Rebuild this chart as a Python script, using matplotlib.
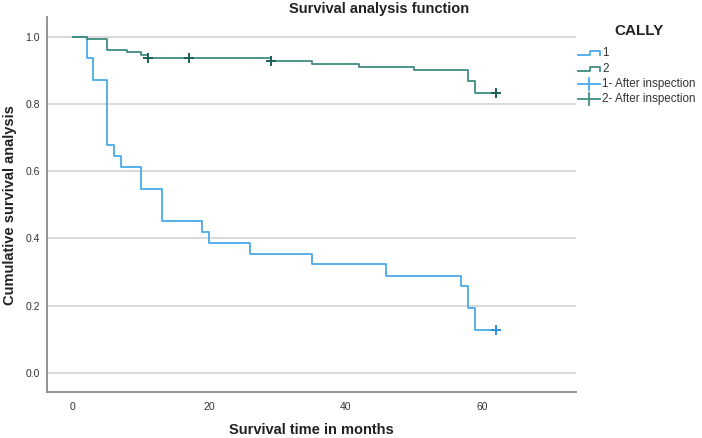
import matplotlib
matplotlib.use("Agg")
import matplotlib.pyplot as plt
from matplotlib.lines import Line2D

plt.rcParams["font.family"] = ["Liberation Sans", "DejaVu Sans"]

# Kaplan-Meier steps, group 1
g1_time = [0, 2, 3, 5, 6, 7, 10, 13, 19, 20, 26, 35, 46, 57, 58, 59, 62]
g1_surv = [1.0, 0.935, 0.871, 0.677, 0.645, 0.613, 0.548, 0.452, 0.419,
           0.387, 0.355, 0.323, 0.290, 0.258, 0.194, 0.129, 0.129]
g1_cens_time = [62]
g1_cens_surv = [0.129]

# group 2
g2_time = [0, 2, 5, 8, 10, 11, 29, 35, 42, 50, 58, 59, 62]
g2_surv = [1.0, 0.994, 0.959, 0.953, 0.944, 0.935, 0.927, 0.919, 0.910,
           0.901, 0.867, 0.833, 0.833]
g2_cens_time = [11, 17, 29, 62]
g2_cens_surv = [0.935, 0.935, 0.927, 0.833]

y_ticks = [0.0, 0.2, 0.4, 0.6, 0.8, 1.0]
x_ticks = [0, 20, 40, 60]

c1 = "#4aa9ea"
c2 = "#3f8c82"
c1_cens = "#2b8fe0"
c2_cens = "#1d5e57"

fig = plt.figure(figsize=(7.02, 4.38), dpi=100)
ax = fig.add_axes([47 / 702, 1 - 392 / 438, (576 - 47) / 702, (392 - 17) / 438])

for y in y_ticks:
    ax.axhline(y, color="#cfcfcf", lw=1.1, zorder=0)

ax.step(g1_time, g1_surv, where="post", color=c1, lw=1.3, zorder=2)
ax.plot(g1_cens_time, g1_cens_surv, "+", color=c1_cens, ms=6.5, mew=1.4, zorder=4)
ax.step(g2_time, g2_surv, where="post", color=c2, lw=1.3, zorder=3)
ax.plot(g2_cens_time, g2_cens_surv, "+", color=c2_cens, ms=6.5, mew=1.4, zorder=4)

ax.set_xlim(-3.8, 73.8)
ax.set_ylim(-0.056, 1.058)
ax.set_xticks(x_ticks)
ax.set_yticks(y_ticks)
ax.set_yticklabels([f"{v:.1f}" for v in y_ticks])
ax.tick_params(length=0, labelsize=7.5, labelcolor="#333333")
ax.tick_params(axis="x", pad=7)
ax.tick_params(axis="y", pad=5)
for s in ["top", "right"]:
    ax.spines[s].set_visible(False)
for s in ["left", "bottom"]:
    ax.spines[s].set_color("#8a8a8a")
    ax.spines[s].set_linewidth(1.3)

fig.text(379 / 702, 1 - 9 / 438, "Survival analysis function", ha="center",
         va="center", fontsize=10.5, fontweight="bold", color="#222222")
fig.text(311 / 702, 1 - 430 / 438, "Survival time in months", ha="center",
         va="center", fontsize=10.5, fontweight="bold", color="#222222")
fig.text(10 / 702, 1 - 205 / 438, "Cumulative survival analysis", ha="center",
         va="center", rotation=90, fontsize=10.5, fontweight="bold", color="#222222")

# legend drawn by hand, SPSS style
W, H = 702.0, 438.0
fig.text(639 / W, 1 - 31 / H, "CALLY", ha="center", va="center",
         fontsize=11, fontweight="bold", color="#222222")
labels = ["1", "2", "1- After inspection", "2- After inspection"]
rows = [53, 69, 84, 99]
colors = [c1, c2, c1, c2]
for i, (lab, yy, col) in enumerate(zip(labels, rows, colors)):
    if i < 2:
        xs = [578, 590, 590, 600, 600]
        ys = [yy + 2, yy + 2, yy - 2, yy - 2, yy + 2]
        fig.add_artist(Line2D([x / W for x in xs], [1 - v / H for v in ys],
                              color=col, lw=1.3))
    else:
        fig.add_artist(Line2D([578 / W, 600 / W], [1 - yy / H, 1 - yy / H],
                              color=col, lw=1.3))
        fig.add_artist(Line2D([589 / W, 589 / W], [1 - (yy - 6) / H, 1 - (yy + 6) / H],
                              color=col, lw=1.3))
    fig.text(602 / W, 1 - yy / H, lab, ha="left", va="center",
             fontsize=8.4, color="#333333")

fig.savefig("out.png", dpi=100)
